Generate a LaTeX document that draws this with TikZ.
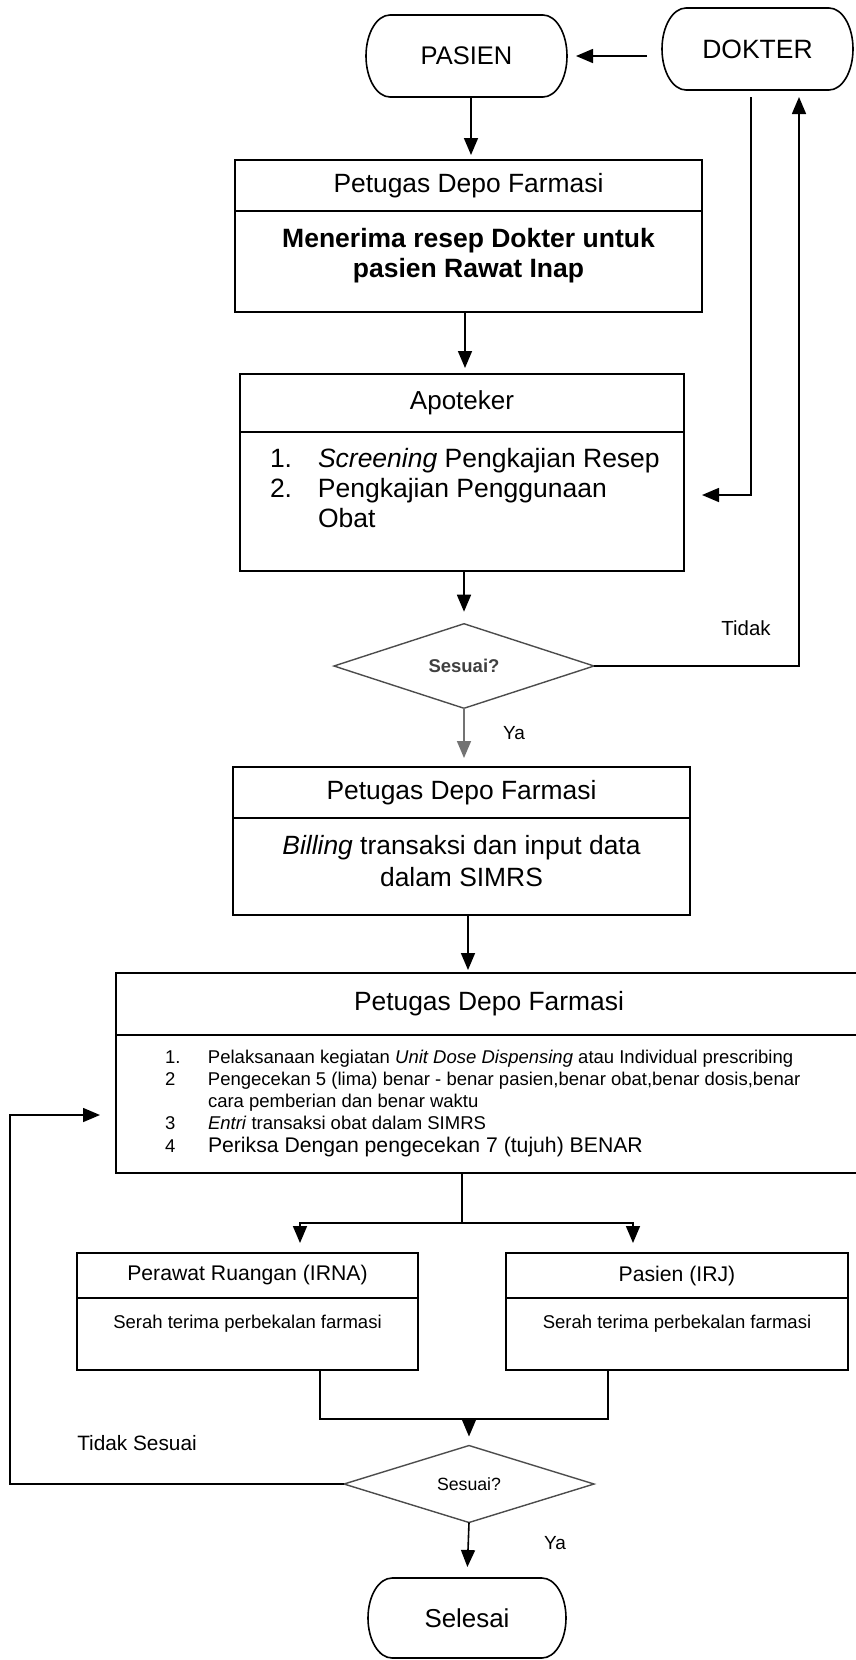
\documentclass[tikz,border=0pt]{standalone}
\usepackage{fontspec}
\setmainfont{Liberation Sans}
\usetikzlibrary{shapes.geometric,arrows.meta}
\newcommand\setfs[2]{\fontsize{#1}{#2}\selectfont}
% outline of a start/end terminal: straight top and bottom, elliptic ends
\newcommand\capsule[3]{%
  \draw ([xshift=#2]#1.north west) -- ([xshift=-#2]#1.north east)
    arc[start angle=90, end angle=-90, x radius=#2, y radius=#3]
    -- ([xshift=#2]#1.south west)
    arc[start angle=270, end angle=90, x radius=#2, y radius=#3] -- cycle;}

\begin{document}
\begin{tikzpicture}[x=1pt, y=-1pt, line width=1.6pt,
  frame/.style={draw, rectangle, inner sep=0pt, outer sep=0pt},
  terminal/.style={rectangle, inner sep=0pt, outer sep=0pt, minimum height=82pt},
  decision/.style={draw=black!70, line width=1.4pt, diamond, inner sep=0pt, outer sep=0pt},
  bodytext/.style={inner sep=0pt, outer sep=0pt},
  arr/.style={-{Triangle[length=17pt,width=14pt]}},
  tag/.style={inner sep=0pt, font=\setfs{20.8}{24}},
]
\path[use as bounding box] (0,0) rectangle (856,1660);
\clip (0,0) rectangle (856,1660);

% start terminals
\node[terminal, minimum width=201pt, font=\setfs{25.5}{30}] (pasien) at (466.5,56) {PASIEN};
\node[terminal, minimum width=191pt, font=\setfs{26.5}{30}] (dokter) at (757.5,49) {DOKTER};
\capsule{pasien}{24pt}{41pt}
\capsule{dokter}{24pt}{41pt}

% receiving the prescription
\node[frame, minimum width=467pt, minimum height=51pt, font=\setfs{26.4}{30}] (b1h) at (468.5,185.5) {Petugas Depo Farmasi};
\node[frame, minimum width=467pt, minimum height=101pt] (b1b) at (468.5,261.5) {};
\node[bodytext, anchor=north, font=\setfs{26.5}{30}\bfseries] (b1t) at ([yshift=-15.5pt]b1b.north)
  {\begin{tabular}{@{}c@{}}Menerima resep Dokter untuk\\ pasien Rawat Inap\end{tabular}};

% pharmacist review
\node[frame, minimum width=444pt, minimum height=58pt, font=\setfs{26}{30}] (aph) at (462,403) {Apoteker};
\node[frame, minimum width=444pt, minimum height=139pt] (apb) at (462,501.5) {};
\node[bodytext, anchor=north west, font=\setfs{26.5}{30}] (apt) at ([xshift=30pt,yshift=-14.5pt]apb.north west)
  {\begin{tabular}{@{}p{48pt}@{}l@{}}1. & \textit{Screening} Pengkajian Resep\\ 2. & Pengkajian Penggunaan\\ & Obat\end{tabular}};

% first check
\node[decision, minimum width=260pt, minimum height=73pt, font=\setfs{18.5}{22}\bfseries, text=black!75] (d1) at (464,666) {Sesuai?};

% billing
\node[frame, minimum width=457pt, minimum height=51pt, font=\setfs{26.4}{30}] (b3h) at (461.5,792.5) {Petugas Depo Farmasi};
\node[frame, minimum width=457pt, minimum height=97pt] (b3b) at (461.5,866.5) {};
\node[bodytext, anchor=north, font=\setfs{26.4}{32}] (b3t) at ([yshift=-14.1pt]b3b.north)
  {\begin{tabular}{@{}c@{}}\textit{Billing} transaksi dan input data\\ dalam SIMRS\end{tabular}};

% dispensing
\node[frame, minimum width=746pt, minimum height=62pt, font=\setfs{26.4}{30}] (b4h) at (489,1004) {Petugas Depo Farmasi};
\node[frame, minimum width=746pt, minimum height=138pt] (b4b) at (489,1104) {};
\node[bodytext, anchor=north west, font=\setfs{18.5}{22}] (b4t) at ([xshift=49pt,yshift=-13.2pt]b4b.north west)
  {\begin{tabular}{@{}p{43pt}@{}l@{}}
   1. & Pelaksanaan kegiatan \textit{Unit Dose Dispensing} atau Individual prescribing\\
   2 & Pengecekan 5 (lima) benar - benar pasien,benar obat,benar dosis,benar\\
     & cara pemberian dan benar waktu\\
   3 & \textit{Entri} transaksi obat dalam SIMRS\\[1pt]
   4 & {\setfs{21.2}{22}Periksa Dengan pengecekan 7 (tujuh) BENAR}
  \end{tabular}};

% hand-over
\node[frame, minimum width=341pt, minimum height=45pt, font=\setfs{21.2}{25}] (b5h) at (247.5,1275.5) {Perawat Ruangan (IRNA)};
\node[frame, minimum width=341pt, minimum height=72pt] (b5b) at (247.5,1334) {};
\node[bodytext, anchor=north, font=\setfs{18.5}{21.7}] (b5t) at ([yshift=-15.4pt]b5b.north)
  {\begin{tabular}{@{}c@{}}Serah terima perbekalan farmasi\end{tabular}};
\node[frame, minimum width=342pt, minimum height=45pt, font=\setfs{21.2}{25}] (b6h) at (677,1275.5) {Pasien (IRJ)};
\node[frame, minimum width=342pt, minimum height=72pt] (b6b) at (677,1334) {};
\node[bodytext, anchor=north, font=\setfs{18.5}{21.7}] (b6t) at ([yshift=-15.4pt]b6b.north)
  {\begin{tabular}{@{}c@{}}Serah terima perbekalan farmasi\end{tabular}};

% final check and end
\node[decision, minimum width=250pt, minimum height=74pt, font=\setfs{17.7}{21}] (d2) at (469,1484) {Sesuai?};
\node[terminal, minimum width=198pt, minimum height=80pt, font=\setfs{25.9}{30}] (selesai) at (467,1618) {Selesai};
\capsule{selesai}{24pt}{40pt}

% connectors
\draw[arr, shorten <=15pt, shorten >=9pt] (dokter.west |- pasien.east) -- (pasien.east);
\draw[arr, shorten >=5pt] ([xshift=4.5pt]pasien.south) -- ([xshift=2.5pt]b1h.north);
\draw[arr, shorten >=6pt] ([xshift=-3.5pt]b1b.south) -- ([xshift=3pt]aph.north);
\draw[arr, shorten <=7pt, shorten >=18pt] ([xshift=-6.5pt]dokter.south) |- ([yshift=6.5pt]apb.east);
\draw[arr, shorten >=12pt] (apb.south -| d1.north) -- (d1.north);
\draw[arr, shorten >=7pt] (d1.east) -| ([xshift=41.5pt]dokter.south);
\node[tag, font=\setfs{20.4}{24}] (tidak) at (746,628) {Tidak};

\draw[arr, color=black!55, shorten >=9pt] (d1.south) -- (d1.south |- b3h.north);
\node[tag, font=\setfs{19}{22}] (ya1) at (514,733) {Ya};

\draw[arr, shorten >=3pt] ([xshift=6.5pt]b3b.south) -- ([xshift=6.5pt]b3b.south |- b4h.north);

\coordinate (split) at (462,1223);
\draw (split |- b4b.south) -- (split);
\draw[arr, shorten >=10pt] (split) -| ([xshift=52.5pt]b5h.north);
\draw[arr, shorten >=10pt] (split) -| ([xshift=-44pt]b6h.north);

\coordinate (merge) at (469,1419);
\draw ([xshift=72.5pt]b5b.south) |- (merge);
\draw ([xshift=-69pt]b6b.south) |- (merge);
\draw[arr, shorten >=9pt] (merge) -- (d2.north);

\draw[arr, shorten >=11pt] (d2.south) -- (selesai.north);
\node[tag, font=\setfs{19}{22}] (ya2) at (555,1543) {Ya};

\coordinate (rail) at (10,0);
\draw[arr, shorten >=16pt] (d2.west) -- (d2.west -| rail) |- ([yshift=-11pt]b4b.west);
\node[tag] (tidaksesuai) at (137,1443) {Tidak Sesuai};
\end{tikzpicture}
\end{document}
